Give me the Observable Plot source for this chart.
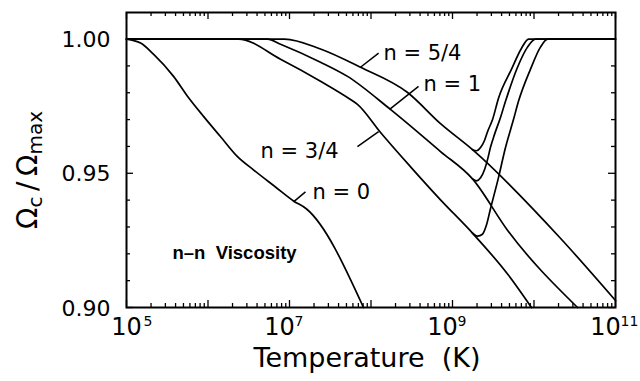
<!DOCTYPE html>
<html>
<head>
<meta charset="utf-8">
<script src="https://cdn.jsdelivr.net/npm/d3@7"></script>
<script src="https://cdn.jsdelivr.net/npm/@observablehq/plot@0.6"></script>
<style>
  html, body { margin: 0; padding: 0; background: #fff; }
  #chart svg { display: block; }
</style>
</head>
<body>
<div id="chart"></div>
<script>
// ---- Data (temperature in K, Omega_c / Omega_max) ----
const n0T = [1e5, 1.49e5, 2.14e5, 3.78e5, 5.60e5, 8.81e5, 1.42e6, 2.30e6, 3.61e6, 6.73e6, 1.12e7, 1.62e7, 8.09e7];
const n0W = [1.000, 0.9985, 0.9944, 0.9861, 0.9787, 0.9712, 0.9637, 0.9562, 0.9513, 0.9449, 0.9397, 0.9367, 0.900];

const n34T = [1e5, 2.37e6, 7.76e6, 2.40e7, 5.60e7, 6.82e7, 1.31e8, 3.06e8, 7.13e8, 1.76e9, 4.87e9, 9.31e9];
const n34W = [1.000, 1.000, 0.9925, 0.9843, 0.9775, 0.9757, 0.9652, 0.9524, 0.9401, 0.9277, 0.9120, 0.900];
const n34UpT = [1.76e9, 2.03e9, 2.33e9, 2.61e9, 2.92e9, 3.66e9, 4.47e9, 5.60e9, 6.45e9, 9.06e9, 1.20e10, 1.47e10, 1e11];
const n34UpW = [0.9277, 0.9266, 0.9273, 0.9307, 0.9367, 0.9483, 0.9596, 0.9700, 0.9768, 0.9888, 0.9970, 1.000, 1.000];

const n1T = [1e5, 5.37e6, 7.76e6, 2.40e7, 5.15e7, 1.73e8, 7.13e8, 1.76e9, 4.73e9, 3.42e10];
const n1W = [1.000, 1.000, 0.9981, 0.9914, 0.9861, 0.9738, 0.9581, 0.9479, 0.9288, 0.900];
const n1UpT = [1.76e9, 1.97e9, 2.21e9, 2.47e9, 2.69e9, 2.92e9, 3.27e9, 3.88e9, 4.47e9, 6.28e9, 8.32e9, 1.04e10, 1e11];
const n1UpW = [0.9479, 0.9472, 0.9483, 0.9513, 0.9551, 0.9596, 0.9644, 0.9708, 0.9768, 0.9895, 0.9970, 1.000, 1.000];

const n54T = [1e5, 8.69e6, 2.40e7, 7.43e7, 2.81e8, 7.13e8, 1.76e9, 2.11e10, 1e11];
const n54W = [1.000, 1.000, 0.9963, 0.9895, 0.9801, 0.9685, 0.9588, 0.9258, 0.9026];
const n54UpT = [1.76e9, 1.97e9, 2.21e9, 2.47e9, 2.69e9, 3.10e9, 3.66e9, 5.30e9, 7.03e9, 8.57e9, 1e11];
const n54UpW = [0.9588, 0.9584, 0.9596, 0.9622, 0.9655, 0.9700, 0.9779, 0.9888, 0.9966, 1.000, 1.000];

const curveLabels = ["n = 5/4", "n = 1", "n = 3/4", "n = 0"];
const curveLabelT = [1.42e8, 4.41e8, 4.41e6, 1.91e7];
const curveLabelW = [0.99457, 0.98333, 0.95805, 0.94288];

const leaderT1 = [7.43e7, 1.69e8, 6.82e7, 1.12e7];
const leaderW1 = [0.9895, 0.9738, 0.95993, 0.93933];
const leaderT2 = [1.24e8, 3.83e8, 1.24e8, 1.57e7];
const leaderW2 = [0.99476, 0.9824, 0.96554, 0.94307];

const noteText = "n\u2013n\u00a0\u00a0Viscosity";
const noteT = 3.67e5, noteW = 0.92041;

const xMajor = [1e5, 1e6, 1e7, 1e8, 1e9, 1e10, 1e11];
const xLabeled = [1e7, 1e9, 1e11];
const xFirst = [1e5];
const yMajor = [0.90, 0.95, 1.00];
const yMinor = [0.91, 0.92, 0.93, 0.94, 0.96, 0.97, 0.98, 0.99];

// ---- Build tables ----
const series = [
  {id: "n0", T: n0T, W: n0W},
  {id: "n34", T: n34T, W: n34W},
  {id: "n34up", T: n34UpT, W: n34UpW},
  {id: "n1", T: n1T, W: n1W},
  {id: "n1up", T: n1UpT, W: n1UpW},
  {id: "n54", T: n54T, W: n54W},
  {id: "n54up", T: n54UpT, W: n54UpW}
];
const rows = series.flatMap(s => s.T.map((t, i) => ({id: s.id, T: t, W: s.W[i]})));
const labels = curveLabels.map((l, i) => ({label: l.replace(/ /g, "\u00a0"), T: curveLabelT[i], W: curveLabelW[i]}));
const leaders = leaderT1.map((t, i) => ({T1: t, W1: leaderW1[i], T2: leaderT2[i], W2: leaderW2[i]}));
const xMinor = [];
for (let k = 5; k <= 10; k++) for (let m = 2; m <= 9; m++) xMinor.push(m * Math.pow(10, k));

const W = 640, H = 381, mL = 126, mR = 25, mT = 12, mB = 74;
const fw = W - mL - mR, fh = H - mT - mB;
const maj = 7, mnr = 4;

const plot = Plot.plot({
  width: W, height: H,
  marginLeft: mL, marginRight: mR, marginTop: mT, marginBottom: mB,
  style: {fontFamily: "DejaVu Sans", background: "white", color: "black"},
  x: {type: "log", domain: [1e5, 1e11], axis: null},
  y: {domain: [0.90, 1.0099], axis: null},
  marks: [
    // ticks (inward, all four sides)
    Plot.tickX(xMajor, {x: d => d, insetTop: fh - maj, stroke: "black", strokeWidth: 1.3}),
    Plot.tickX(xMinor, {x: d => d, insetTop: fh - mnr, stroke: "black", strokeWidth: 1.3}),
    Plot.tickX(xMajor, {x: d => d, insetBottom: fh - maj, stroke: "black", strokeWidth: 1.3}),
    Plot.tickX(xMinor, {x: d => d, insetBottom: fh - mnr, stroke: "black", strokeWidth: 1.3}),
    Plot.tickY(yMajor, {y: d => d, insetRight: fw - maj, stroke: "black", strokeWidth: 1.3}),
    Plot.tickY(yMinor, {y: d => d, insetRight: fw - mnr, stroke: "black", strokeWidth: 1.3}),
    Plot.tickY(yMajor, {y: d => d, insetLeft: fw - maj, stroke: "black", strokeWidth: 1.3}),
    Plot.tickY(yMinor, {y: d => d, insetLeft: fw - mnr, stroke: "black", strokeWidth: 1.3}),
    // curves
    Plot.line(rows, {x: "T", y: "W", z: "id", curve: "monotone-x", stroke: "black", strokeWidth: 1.7, strokeLinejoin: "round"}),
    // leader lines and labels
    Plot.link(leaders, {x1: "T1", y1: "W1", x2: "T2", y2: "W2", stroke: "black", strokeWidth: 1.5}),
    Plot.text(labels, {x: "T", y: "W", text: "label", textAnchor: "start", fontSize: 21, fill: "black", ariaLabel: "curve-labels"}),
    Plot.text([noteText], {x: noteT, y: noteW, text: d => d, textAnchor: "start", fontSize: 18.5, fontWeight: "bold", fontFamily: "Liberation Sans", fill: "black"}),
    // y tick labels
    Plot.text(yMajor, {y: d => d, frameAnchor: "left", dx: -16, dy: 1, textAnchor: "end", text: d => d.toFixed(2), fontSize: 22, fill: "black"}),
    // x tick labels: 10 with exponent
    Plot.text(xFirst, {x: d => d, frameAnchor: "bottom", dy: 27, text: () => "10", fontSize: 24, fill: "black"}),
    Plot.text(xFirst, {x: d => d, frameAnchor: "bottom", dy: 18, dx: 17, textAnchor: "start", text: d => String(Math.round(Math.log10(d))), fontSize: 14, fill: "black"}),
    Plot.text(xLabeled, {x: d => d, frameAnchor: "bottom", dy: 27, dx: -10, text: () => "10", fontSize: 24, fill: "black"}),
    Plot.text(xLabeled, {x: d => d, frameAnchor: "bottom", dy: 18, dx: 5, textAnchor: "start", text: d => String(Math.round(Math.log10(d))), fontSize: 14, fill: "black"}),
    // x axis title
    Plot.text(["Temperature\u00a0\u00a0(K)"], {frameAnchor: "bottom", dy: 59, dx: -4, text: d => d, fontSize: 27, fill: "black"}),
    Plot.frame({stroke: "black", strokeWidth: 2})
  ]
});

document.getElementById("chart").appendChild(plot);

// letter spacing for curve labels
d3.select(plot).selectAll('g[aria-label="curve-labels"] text').style("letter-spacing", "2.5px");

// y axis title with subscripts
const yl = d3.select(plot).append("text")
  .attr("transform", "translate(37,170) rotate(-90)")
  .attr("text-anchor", "middle")
  .attr("font-family", "DejaVu Sans")
  .attr("fill", "black");
yl.append("tspan").attr("font-size", 28).text("\u03A9");
yl.append("tspan").attr("font-size", 20).attr("dy", 5).text("c");
yl.append("tspan").attr("font-size", 28).attr("dy", -5).text("\u2009/\u2009\u03A9");
yl.append("tspan").attr("font-size", 20).attr("dy", 5).text("max");
</script>
</body>
</html>
